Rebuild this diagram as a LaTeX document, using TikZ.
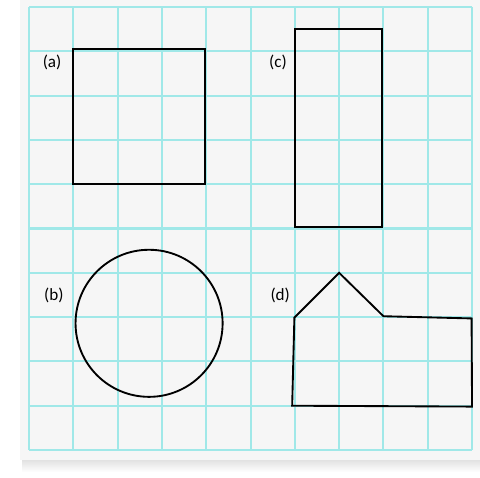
\documentclass[tikz,border=0pt]{standalone}
\usepackage{fontspec}
\setmainfont{Carlito}
\definecolor{gitterfarbe}{RGB}{160,232,232}
\definecolor{blatt}{RGB}{246,246,246}
\tikzset{%
		gitter/.style={draw=gitterfarbe,line width=1.3pt},
		figur/.style={draw,black,line width=1.2pt,line join=miter},
		marke/.style={font=\fontsize{11}{13}\selectfont,inner sep=0pt}
	}
\begin{document}
\begin{tikzpicture}[x=1cm,y=-1cm]
    \useasboundingbox (-0.655,-0.158) rectangle (10.18,10.61) ;
    % Blatt mit Schatten
    \fill[white] (-0.655,-0.158) rectangle (10.18,10.61) ;
    \shade[top color=gray!25,bottom color=white] (-0.15,10.2) rectangle (10.18,10.5) ;
    \fill[blatt] (-0.2,-0.158) rectangle (10.18,10.23) ;
    \foreach \i in {0,...,10} {
        \draw[gitter] (\i,0) -- (\i,10) ;
        \draw[gitter] (0,\i) -- (10,\i) ;
    }
    % (a) Quadrat
    \draw[figur] (1,0.95) rectangle (3.97,4) ;
    \node[marke] (a) at (0.52,1.26) {(a)} ;
    % (b) Kreis
    \draw[figur] (2.71,7.14) circle (1.66) ;
    \node[marke] (b) at (0.56,6.5) {(b)} ;
    % (c) Rechteck
    \draw[figur] (6,0.5) rectangle (7.97,4.97) ;
    \node[marke] (c) at (5.62,1.24) {(c)} ;
    % (d) Haus
    \draw[figur] (5.99,7.01) -- (7,6) -- (8,6.98) -- (9.99,7.03) -- (10,9.02) -- (5.94,9) -- cycle ;
    \node[marke] (d) at (5.67,6.5) {(d)} ;
\end{tikzpicture}
\end{document}
